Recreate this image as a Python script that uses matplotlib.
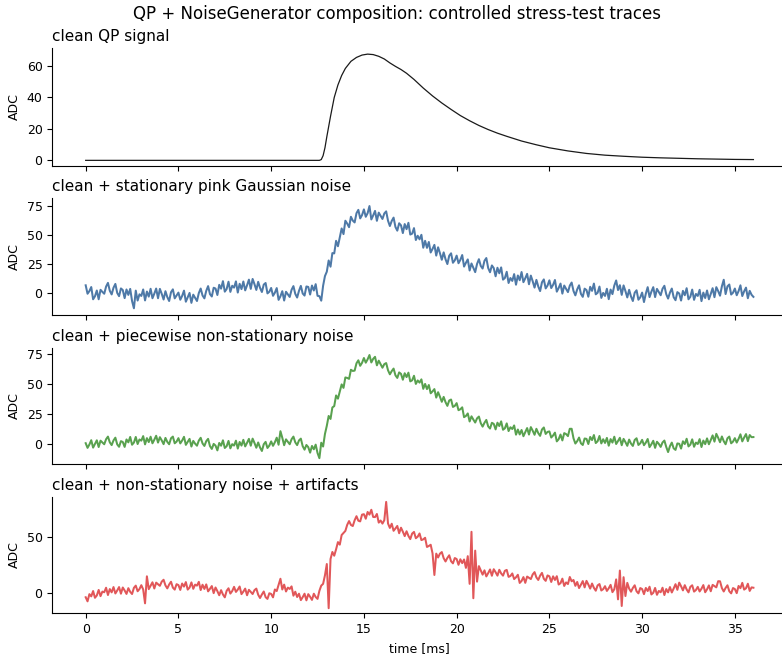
import numpy as np
import matplotlib
matplotlib.use("Agg")
import matplotlib.pyplot as plt

# ---- data -------------------------------------------------------------
# clean QP pulse (time in ms, amplitude in ADC counts)
clean_t = [0.0, 12.6, 12.7, 12.8, 12.9, 13.0, 13.2, 13.4, 13.6, 13.8, 14.0,
           14.3, 14.6, 14.9, 15.2, 15.5, 15.8, 16.1, 16.4, 16.7, 17.0, 17.3,
           17.7, 18.2, 18.7, 19.2, 19.7, 20.2, 20.7, 21.2, 21.7, 22.2, 22.7,
           23.5, 24.3, 25.0, 26.0, 27.0, 28.0, 29.0, 30.0, 31.0, 32.0, 33.0,
           34.0, 35.0, 36.0]
clean_adc = [0.0, 0.0, 0.5, 3.0, 8.0, 15.0, 28.0, 40.0, 48.0, 54.0, 58.5,
             63.0, 65.5, 67.0, 67.6, 67.3, 66.2, 64.5, 62.0, 59.8, 57.8, 55.4,
             51.5, 46.0, 41.0, 36.5, 32.4, 28.5, 25.2, 22.2, 19.6, 17.3, 15.3,
             12.3, 9.9, 8.0, 6.0, 4.4, 3.3, 2.6, 2.0, 1.6, 1.3, 1.0,
             0.8, 0.6, 0.5]

# noisy traces, one sample every 0.1 ms from 0 to 36 ms (one row per ms)
sample_step_ms = 0.1

pink_adc = [
    6.4, -0.9, 1.4, 4.9, -5.7, -3.1, 1.9, -5.7, 2.5, 0.7,
    -0.9, 5.3, 8.5, 1.7, -1.5, 4.3, 7.6, -0.2, -3.0, 3.7,
    2.3, -4.7, 2.8, -1.9, 3.3, -7.2, -13.5, 1.8, -6.8, -1.4,
    -2.8, 2.8, -6.7, 1.0, -3.4, 3.4, -4.8, -0.8, 3.6, -4.8,
    3.3, -1.0, -5.9, 1.3, -3.8, -7.2, 0.4, 2.9, -4.9, -2.4,
    0.1, -6.1, -2.8, 1.8, -7.8, -4.1, -0.2, -8.8, -1.7, -4.5,
    -7.2, -0.3, 3.6, -2.4, -4.9, 1.6, 5.7, -1.2, -3.3, 4.3,
    3.6, -2.0, 6.8, 3.5, 10.0, 0.9, 3.2, 9.5, 0.7, 6.0,
    4.4, 9.8, 0.1, 7.7, 3.1, 9.7, 2.0, 6.4, 11.3, 3.3,
    11.9, 7.4, 2.4, 9.4, 4.2, 0.6, 7.0, 8.4, -0.6, 0.8,
    4.1, -2.7, 0.0, 4.0, -6.2, -3.1, 1.3, -6.8, 0.8, -1.5,
    -3.7, 2.5, 5.7, -1.0, -4.2, 1.6, 5.9, -0.7, -2.5, 5.4,
    5.0, -1.6, 6.2, 1.9, 7.4, -2.7, -3.0, -6.9, 6.0, 14.4,
    18.2, 27.9, 22.5, 34.3, 34.0, 44.9, 40.2, 47.7, 55.6, 50.7,
    62.3, 59.8, 56.7, 65.7, 62.4, 60.8, 68.8, 71.7, 64.3, 67.2,
    72.1, 65.7, 68.8, 75.0, 63.4, 66.9, 70.8, 62.2, 69.3, 66.5,
    63.8, 68.6, 70.4, 62.3, 57.7, 62.1, 65.0, 56.9, 53.7, 60.1,
    58.3, 51.6, 59.4, 55.0, 60.5, 50.3, 51.1, 55.9, 45.6, 49.3,
    46.2, 50.1, 38.9, 44.9, 38.8, 43.9, 34.8, 37.9, 41.4, 32.1,
    39.3, 34.2, 28.5, 34.9, 29.0, 24.8, 32.0, 34.1, 25.9, 28.0,
    32.1, 25.5, 28.4, 32.6, 22.6, 25.9, 28.8, 19.2, 25.3, 21.5,
    17.8, 24.9, 29.0, 23.2, 20.9, 27.6, 30.0, 21.4, 17.7, 23.6,
    21.3, 14.2, 21.6, 16.8, 21.9, 11.3, 12.7, 18.1, 8.4, 12.7,
    10.2, 16.1, 6.9, 14.9, 10.8, 17.9, 9.1, 12.5, 16.3, 7.3,
    14.8, 9.9, 4.4, 11.1, 5.4, 1.4, 9.0, 11.5, 3.7, 6.2,
    10.7, 4.0, 6.8, 11.0, 0.9, 4.1, 7.9, -0.8, 6.2, 3.3,
    0.5, 6.1, 8.8, 1.5, -2.3, 2.9, 6.4, -1.0, -3.6, 3.5,
    2.3, -3.5, 5.1, 1.6, 7.9, -1.4, -0.1, 5.3, -4.5, -0.2,
    -2.8, 3.4, -5.6, 2.7, -1.2, 6.2, 10.6, 2.3, 6.5, -1.9,
    6.3, 1.4, -4.1, 2.5, -3.2, -7.2, 0.0, 2.1, -6.1, -4.0,
    0.1, -8.1, -0.8, 4.8, -3.8, 0.9, 4.8, -3.8, 3.3, 0.5,
    -2.2, 3.4, 6.0, -1.3, -5.1, 0.1, 3.6, -3.9, -6.5, 0.5,
    -0.7, -6.8, 1.6, -2.2, 3.9, -5.7, -3.5, 2.7, -6.2, -1.1,
    -2.8, 2.5, -7.3, 0.1, -4.6, 1.9, -5.7, -1.1, 3.9, -3.9,
    4.8, 1.4, -2.6, 5.5, 11.2, -1.2, 5.5, 7.1, -1.6, 0.0,
    3.6, -2.2, 1.4, 6.4, -2.9, 1.2, 4.4, -4.8, 1.6, -1.8,
    -3.6,
]

piecewise_adc = [
    0.9, -3.0, -0.2, 3.4, -2.8, 0.2, 3.3, -2.3, 3.0, 1.5,
    0.0, 4.2, 6.4, 1.6, -0.7, 3.2, 5.5, -0.1, -2.1, 2.6,
    1.9, -2.2, 4.0, 1.6, 6.1, -0.4, 1.4, 6.1, 0.2, 4.0,
    3.0, 6.8, -0.1, 5.1, 1.8, 6.3, 0.8, 3.8, 7.1, 1.4,
    5.9, 3.2, 0.1, 5.3, 2.0, 0.0, 5.0, 6.4, 0.8, 2.2,
    5.1, 0.7, 3.1, 6.2, -0.5, 2.0, 4.5, -1.9, 2.8, 0.5,
    -1.2, 3.1, 5.4, 0.7, -1.4, 2.6, 4.5, -1.5, -3.9, 0.3,
    -1.1, -5.1, 1.1, -1.2, 3.3, -3.1, -1.6, 2.8, -3.4, 0.1,
    -1.1, 3.0, -3.6, 1.9, -1.1, 3.7, -1.8, 1.2, 4.5, -1.2,
    4.7, 1.1, -2.9, 1.5, -2.7, -5.6, 0.0, 2.0, -3.1, -1.1,
    2.4, -1.3, 1.7, 5.5, -0.4, 10.9, 5.4, -0.8, 4.1, 2.0,
    0.0, 4.2, 6.4, 1.6, -0.7, 3.2, 4.7, -1.6, -4.5, -0.6,
    -2.4, -7.0, -1.4, -4.2, -0.3, -7.3, -11.6, 1.3, -1.9, 8.6,
    15.4, 23.6, 21.1, 30.7, 31.8, 40.7, 38.0, 43.8, 49.9, 47.0,
    55.7, 55.3, 54.5, 62.1, 61.1, 61.4, 67.5, 70.0, 65.4, 67.9,
    71.9, 68.0, 70.8, 74.4, 68.2, 71.2, 72.9, 65.8, 69.7, 66.7,
    63.8, 66.8, 67.7, 61.7, 58.3, 61.0, 63.1, 57.5, 55.3, 59.9,
    58.7, 53.8, 59.2, 56.0, 59.7, 52.4, 53.3, 57.1, 50.3, 53.2,
    51.4, 54.1, 46.2, 50.3, 46.0, 49.4, 42.5, 44.1, 46.0, 38.9,
    43.4, 39.6, 35.4, 39.5, 35.1, 32.0, 36.5, 37.3, 31.1, 32.0,
    34.3, 28.4, 29.2, 30.8, 22.6, 23.6, 25.7, 19.0, 23.3, 20.6,
    18.1, 21.6, 23.1, 17.6, 14.7, 17.9, 20.3, 14.9, 13.1, 17.9,
    17.0, 12.4, 18.0, 15.2, 19.1, 12.1, 13.3, 17.4, 11.0, 14.2,
    12.7, 15.7, 8.0, 12.3, 8.2, 11.9, 6.7, 10.0, 13.5, 8.1,
    14.3, 11.3, 7.9, 12.9, 9.3, 7.0, 12.3, 14.0, 8.6, 10.3,
    10.7, 5.6, 7.3, 9.7, 2.4, 4.2, 8.1, 3.2, 9.3, 8.5,
    6.8, 12.9, 12.9, 5.0, 0.6, 2.6, 5.6, 0.8, -0.6, 4.8,
    4.5, 0.2, 6.1, 3.5, 7.7, 1.0, 2.5, 6.9, 0.7, 4.2,
    1.1, 5.3, -1.2, 4.3, 1.4, 6.3, 0.2, 2.7, 5.4, -0.8,
    4.5, 1.8, -1.3, 3.9, 0.6, -1.4, 3.6, 5.0, -0.6, 0.8,
    3.7, -0.8, 1.4, 4.4, -2.4, 0.0, 2.9, -3.0, 2.1, 0.3,
    -2.2, 1.5, 3.1, -2.2, -6.5, -1.6, 1.4, -3.4, -4.7, 0.7,
    0.4, -3.6, 2.5, 0.2, 4.6, -1.8, -0.3, 4.1, -2.1, 1.4,
    0.2, 4.3, -2.3, 3.1, 0.1, 4.9, 0.0, 3.5, 7.4, 2.2,
    8.7, 5.4, 1.7, 6.5, 2.6, 0.0, 5.0, 6.4, 0.8, 2.2,
    5.1, 1.4, 4.5, 8.3, 2.4, 5.6, 8.5, 2.6, 7.7, 5.9,
    6.0,
]

artifact_adc = [
    -4.1, -7.8, -1.3, -3.3, 1.5, -4.6, -2.5, 2.5, -3.1, 1.0,
    0.4, 4.5, -2.1, 3.3, 0.3, 5.1, -0.7, 2.0, 5.1, -0.9,
    4.7, 2.0, -1.1, 4.1, 0.8, -1.2, 4.4, 6.4, 1.3, 3.3,
    6.8, 2.9, -9.6, 14.8, 3.2, 6.2, 9.4, 3.8, 9.1, 7.6,
    6.2, 10.0, 11.7, 6.6, 3.9, 7.4, 9.9, 4.6, 2.8, 7.7,
    6.9, 2.5, 8.3, 5.5, 9.6, 2.8, 4.6, 9.3, 3.5, 7.3,
    6.4, 9.8, 2.4, 7.2, 3.4, 7.5, 1.2, 3.5, 6.0, -0.4,
    4.7, 1.4, -2.3, 2.3, -1.6, -4.2, 1.7, 4.0, -0.8, 1.5,
    5.3, 0.7, 2.8, 5.6, -1.3, 1.0, 3.7, -2.3, 2.6, 0.7,
    -1.2, 2.3, 3.7, -1.8, -4.8, -1.6, 1.1, -4.0, -5.6, -0.5,
    -1.1, -4.2, 2.9, 1.5, 6.9, 12.6, 2.9, 7.3, 1.1, 4.6,
    3.4, 5.7, -2.7, 0.9, -3.9, -0.9, -6.7, -4.0, -0.9, -6.9,
    -1.3, -3.7, -6.5, -0.9, -3.9, -5.6, 1.7, 6.4, 8.0, 15.7,
    25.9, -14.0, 30.4, 36.8, 33.4, 39.2, 45.7, 43.4, 52.1, 53.9,
    55.8, 61.3, 64.7, 61.2, 60.2, 65.4, 69.1, 65.0, 64.4, 70.5,
    70.9, 66.8, 72.9, 70.5, 74.9, 68.4, 68.3, 71.1, 63.3, 65.2,
    62.4, 65.5, 82.0, 62.5, 58.5, 62.3, 55.9, 58.0, 60.3, 53.7,
    58.7, 55.1, 51.1, 55.5, 51.3, 48.4, 53.4, 54.9, 49.2, 50.6,
    53.5, 47.5, 48.2, 49.6, 41.3, 42.2, 43.3, 35.6, 16.0, 35.3,
    31.8, 35.3, 36.7, 31.2, 28.2, 31.4, 33.8, 28.4, 26.5, 31.3,
    30.4, 25.2, 30.2, 26.7, 30.0, 22.4, 33.0, 8.0, 55.0, -5.0,
    38.0, 10.0, 24.0, 20.2, 16.3, 20.2, 14.7, 17.7, 21.0, 15.3,
    21.2, 18.5, 15.4, 20.7, 17.4, 15.4, 19.8, 20.6, 14.3, 15.1,
    17.4, 12.3, 13.9, 16.2, 8.8, 10.6, 14.1, 8.9, 14.6, 13.4,
    12.3, 16.5, 18.6, 13.8, 11.5, 15.4, 17.9, 12.6, 10.7, 15.6,
    14.8, 9.7, 14.8, 11.5, 14.9, 7.4, 8.6, 12.7, 6.1, 9.3,
    7.8, 14.2, 10.3, 11.5, 6.2, 9.7, 4.2, 7.2, 10.5, 4.8,
    10.7, 7.4, 3.7, 8.3, 4.4, 1.8, 6.6, 7.8, 2.0, 3.2,
    5.9, 1.6, 4.0, 7.1, 0.5, 3.1, 12.0, -6.0, 20.0, -12.0,
    14.0, -3.0, 8.9, 3.7, 0.9, 4.3, 6.7, 1.3, -0.6, 4.2,
    3.3, -1.3, 4.3, 1.5, 5.4, -1.6, -0.1, 4.3, -1.9, 1.6,
    0.4, 4.5, -2.1, 3.3, 0.3, 5.1, 0.2, 3.8, 7.7, 2.6,
    9.1, 5.8, 2.1, 6.8, 2.9, 0.3, 5.3, 6.7, 1.0, 2.4,
    5.3, 1.1, 3.6, 6.9, 0.4, 3.1, 6.6, 1.3, 7.1, 5.9,
    4.8, 10.4, 10.3, 4.2, 1.1, 4.3, 6.7, 1.3, -0.6, 4.2,
    3.3, -0.4, 6.1, 4.1, 8.9, 2.8, 4.0, 8.1, 1.6, 4.8,
    4.5,
]

panel_titles = [
    "clean QP signal",
    "clean + stationary pink Gaussian noise",
    "clean + piecewise non-stationary noise",
    "clean + non-stationary noise + artifacts",
]
x_ticks = [0, 5, 10, 15, 20, 25, 30, 35]

# ---- figure -------------------------------------------------------------
W, H = 782, 655
fig = plt.figure(figsize=(W / 100, H / 100), dpi=100)

left_px, width_px = 52.3, 734.5
panel_px = [(48.3, 165.7), (198.3, 315.0), (347.7, 464.3), (496.7, 613.3)]
ylims = [(-3.4, 71.3), (-19.3, 81.7), (-16.7, 80.5), (-18.6, 86.7)]
yticks = [[0, 20, 40, 60], [0, 25, 50, 75], [0, 25, 50, 75], [0, 50]]

axes = []
for (top, bot) in panel_px:
    ax = fig.add_axes([left_px / W, 1 - bot / H, width_px / W, (bot - top) / H])
    axes.append(ax)

t_noisy = np.arange(len(pink_adc)) * sample_step_ms

axes[0].plot(clean_t, clean_adc, color="#1a1a1a", lw=0.9)
axes[1].plot(t_noisy, pink_adc, color="#4E79A7", lw=1.45)
axes[2].plot(t_noisy, piecewise_adc, color="#59A14F", lw=1.45)
axes[3].plot(t_noisy, artifact_adc, color="#E15759", lw=1.45)

for i, ax in enumerate(axes):
    ax.set_xlim(-1.8, 37.8)
    ax.set_ylim(*ylims[i])
    ax.set_yticks(yticks[i])
    ax.set_xticks(x_ticks)
    ax.spines["top"].set_visible(False)
    ax.spines["right"].set_visible(False)
    ax.tick_params(labelsize=9)
    ax.set_ylabel("ADC", fontsize=9)
    ax.set_title(panel_titles[i], loc="left", fontsize=11, pad=5)
    if i < 3:
        ax.tick_params(labelbottom=False)

axes[3].set_xlabel("time [ms]", fontsize=9)
fig.suptitle("QP + NoiseGenerator composition: controlled stress-test traces",
             fontsize=12, x=0.508, y=0.993)

fig.savefig("out.png", dpi=100)
